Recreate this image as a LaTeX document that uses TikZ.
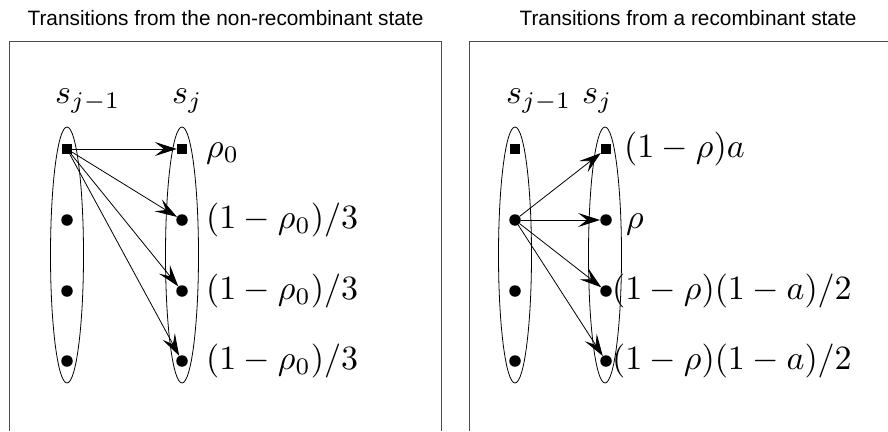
\documentclass[tikz,border=0pt]{standalone}
\usepackage{fontspec}
\usepackage{tikz}
\usetikzlibrary{shapes,arrows.meta,positioning}
\newfontfamily\titlefont{Liberation Sans}
\newcommand{\bigmath}[1]{\scalebox{3.4}{$#1$}}

\begin{document}
\begin{tikzpicture}[x=1pt, y=-1pt,
    column/.style={ellipse, draw, line width=0.8pt, minimum width=33pt, minimum height=256pt, inner sep=0pt},
    sq/.style={rectangle, fill, minimum size=10pt, inner sep=0pt},
    dot/.style={circle, fill, minimum size=11.5pt, inner sep=0pt},
    prob/.style={anchor=base west, inner sep=0pt},
    title/.style={anchor=base, font=\titlefont\fontsize{20.8}{24}\selectfont, inner sep=0pt},
    frame/.style={draw=black!70, line width=1pt},
    arrow/.style={-{Stealth[length=22pt,width=14pt,inset=9pt]}, line width=0.8pt}]

  \useasboundingbox (0,0) rectangle (888,431);

  % titles and frames
  \node[title] (title1) at (225.5,25) {Transitions from the non-recombinant state};
  \node[title] (title2) at (688,25) {Transitions from a recombinant state};
  \draw[frame] (9,431) -- (9,41) -- (441,41) -- (441,431);
  \draw[frame] (469,431) -- (469,41) -- (888,41);

  % non-recombinant panel
  \node[column] (colA) at (67,255) {};
  \node[column] (colB) at (182,255) {};
  \node[prob] (headA) at (55,103) {\bigmath{s_{j-1}}};
  \node[prob] (headB) at (172,103) {\bigmath{s_j}};

  \node[sq] (a0) at (67,149) {};
  \node[dot] (a1) at (67,220) {};
  \node[dot] (a2) at (67,291) {};
  \node[dot] (a3) at (67,361) {};
  \node[sq] (b0) at (182,149) {};
  \node[dot] (b1) at (182,220) {};
  \node[dot] (b2) at (182,291) {};
  \node[dot] (b3) at (182,361) {};

  \node[prob] (pb0) at (206,157.5) {\bigmath{\rho_0}};
  \node[prob] (pb1) at (206,228.5) {\bigmath{(1-\rho_0)/3}};
  \node[prob] (pb2) at (206,299.5) {\bigmath{(1-\rho_0)/3}};
  \node[prob] (pb3) at (206,369.5) {\bigmath{(1-\rho_0)/3}};

  \foreach \t in {b0,b1,b2,b3}
    \draw[arrow] (a0) -- (\t);

  % recombinant panel
  \node[column] (colC) at (515,255) {};
  \node[column] (colD) at (605,255) {};
  \node[prob] (headC) at (506,103) {\bigmath{s_{j-1}}};
  \node[prob] (headD) at (582,103) {\bigmath{s_j}};

  \node[sq] (c0) at (515,149) {};
  \node[dot] (c1) at (515,220) {};
  \node[dot] (c2) at (515,291) {};
  \node[dot] (c3) at (515,361) {};
  \node[sq] (d0) at (606,149) {};
  \node[dot] (d1) at (606,220) {};
  \node[dot] (d2) at (606,291) {};
  \node[dot] (d3) at (606,361) {};

  \node[prob] (pd0) at (624,157.5) {\bigmath{(1-\rho)a}};
  \node[prob] (pd1) at (626,228.5) {\bigmath{\rho}};
  \node[prob] (pd2) at (612,299.5) {\bigmath{(1-\rho)(1-a)/2}};
  \node[prob] (pd3) at (612,369.5) {\bigmath{(1-\rho)(1-a)/2}};

  \foreach \t in {d0,d1,d2,d3}
    \draw[arrow] (c1) -- (\t);
\end{tikzpicture}
\end{document}
